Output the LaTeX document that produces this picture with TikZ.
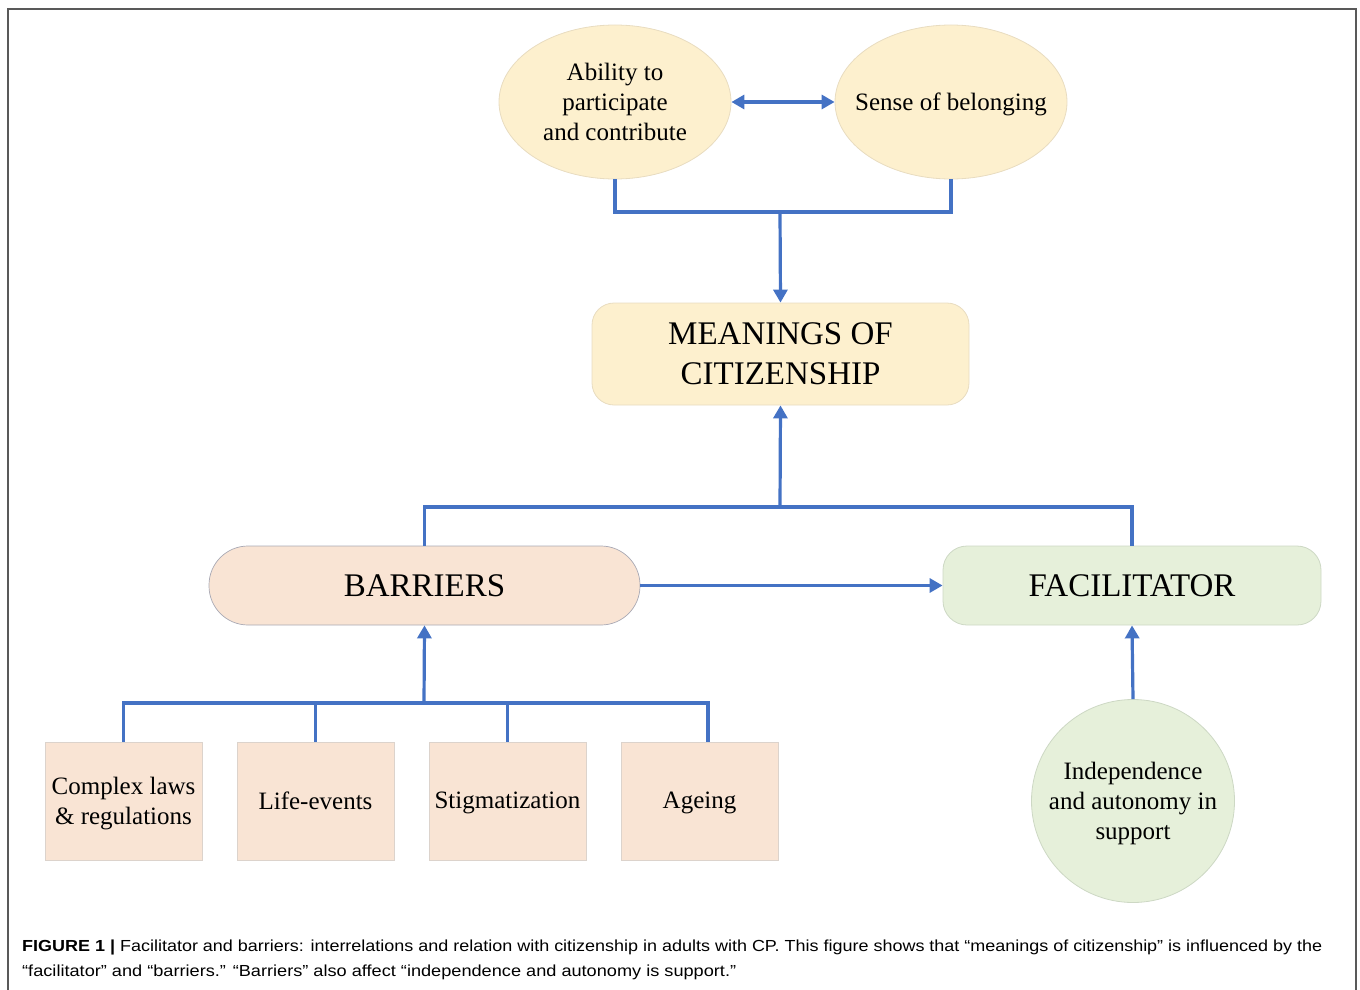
\documentclass[tikz,border=0pt]{standalone}
\usepackage{fontspec}
\usepackage{graphicx}
\setmainfont{Liberation Serif}
\newfontfamily\capfont{Liberation Sans}
\usetikzlibrary{shapes.geometric,arrows.meta}
\definecolor{arrblue}{HTML}{4472C4}
\definecolor{ylfill}{HTML}{FDF0CE}
\definecolor{ylline}{HTML}{E8DCC0}
\definecolor{pkfill}{HTML}{F9E4D4}
\definecolor{pkline}{HTML}{A9A9B4}
\definecolor{grfill}{HTML}{E6F0DA}
\definecolor{grline}{HTML}{CDD8C4}
\definecolor{bxline}{HTML}{DCD3CC}
\newcommand{\lowered}[2]{\raisebox{-#1}[\height][\depth]{#2}}
\tikzset{
  conn/.style={draw=arrblue, line width=3.2pt},
  arr/.style={conn, -{Triangle[length=13pt,width=14pt]}},
  darr/.style={conn, {Triangle[length=13pt,width=14pt]}-{Triangle[length=13pt,width=14pt]}},
  ell/.style={ellipse, fill=ylfill, draw=ylline, line width=0.8pt, minimum width=232pt, minimum height=154pt, inner sep=0pt, align=center, font=\fontsize{25}{30}\selectfont},
  bigtxt/.style={font=\fontsize{33}{40}\selectfont, align=center},
  smallbox/.style={rectangle, fill=pkfill, draw=bxline, line width=0.8pt, minimum width=157pt, minimum height=118pt, inner sep=0pt, align=center, font=\fontsize{25}{30}\selectfont},
}
\begin{document}
\begin{tikzpicture}[x=1pt,y=-1pt]
\useasboundingbox (0,0) rectangle (1360,990);
% frame
\draw[line width=1.6pt, draw=black!65] (8,1000) -- (8,9) -- (1356,9) -- (1356,1000);

% top ellipses
\node[ell] (abil) at (615,102) {Ability to\\participate\\and contribute};
\node[ell, inner xsep=-30pt] (belong) at (951,102) {\lowered{2pt}{Sense of belonging}};
\draw[darr] (abil.east) -- (belong.west);

% meanings
\node[rectangle, rounded corners=22pt, fill=ylfill, draw=ylline, line width=0.8pt, minimum width=377pt, minimum height=102pt, inner sep=0pt, bigtxt] (mean) at (780.5,354) {MEANINGS OF\\CITIZENSHIP};

\coordinate (j1) at (780,212);
\draw[conn] (abil.south) |- (j1) -| (belong.south);
\draw[arr] (j1) -- (mean.north);

% barriers and facilitator
\node[rectangle, rounded corners=39pt, fill=pkfill, draw=pkline, line width=0.7pt, minimum width=431pt, minimum height=79pt, inner sep=0pt, bigtxt] (barr) at (424.5,585.5) {BARRIERS};
\node[rectangle, rounded corners=24pt, fill=grfill, draw=grline, line width=0.8pt, minimum width=378pt, minimum height=79pt, inner sep=0pt, bigtxt] (fac) at (1132,585.5) {FACILITATOR};

\coordinate (j2) at (780,507);
\draw[conn] (barr.north) |- (j2) -| (fac.north);
\draw[arr] (j2) -- (mean.south);
\draw[arr] (barr.east) -- (fac.west);

% independence circle
\node[circle, fill=grfill, draw=grline, line width=0.8pt, minimum size=203pt, inner sep=0pt, align=center, font=\fontsize{25}{30}\selectfont] (indep) at (1133,801) {\lowered{2pt}{\parbox{170pt}{\centering Independence\\and autonomy in\\support}}};
\draw[arr] (indep.north) -- (fac.south);

% small boxes
\node[smallbox] (b1) at (123.5,801) {\lowered{3pt}{\parbox{150pt}{\centering Complex laws\\\& regulations}}};
\node[smallbox] (b2) at (315.5,801) {Life-events};
\node[smallbox] (b3) at (507.5,801) {\lowered{2pt}{Stigmatization}};
\node[smallbox] (b4) at (699.5,801) {\lowered{2pt}{Ageing}};

\coordinate (j3) at (424,703);
\coordinate (d4) at ([xshift=8.5pt]b4.north);
\draw[conn] (b1.north) |- (j3) -| (d4);
\draw[conn] (b2.north) -- (b2.north |- j3);
\draw[conn] (b3.north) -- (b3.north |- j3);
\draw[arr] (j3) -- (barr.south);

% caption
\node[anchor=base west, inner sep=0pt, font=\capfont\fontsize{16}{19}\selectfont] (cap1) at (22,951) {\resizebox{1300pt}{\height}{\textbf{FIGURE 1 |} Facilitator and barriers: interrelations and relation with citizenship in adults with CP. This figure shows that “meanings of citizenship” is influenced by the}};
\node[anchor=base west, inner sep=0pt, font=\capfont\fontsize{16}{19}\selectfont] (cap2) at (22,976) {\resizebox{714pt}{\height}{“facilitator” and “barriers.” “Barriers” also affect “independence and autonomy is support.”}};
\end{tikzpicture}
\end{document}
